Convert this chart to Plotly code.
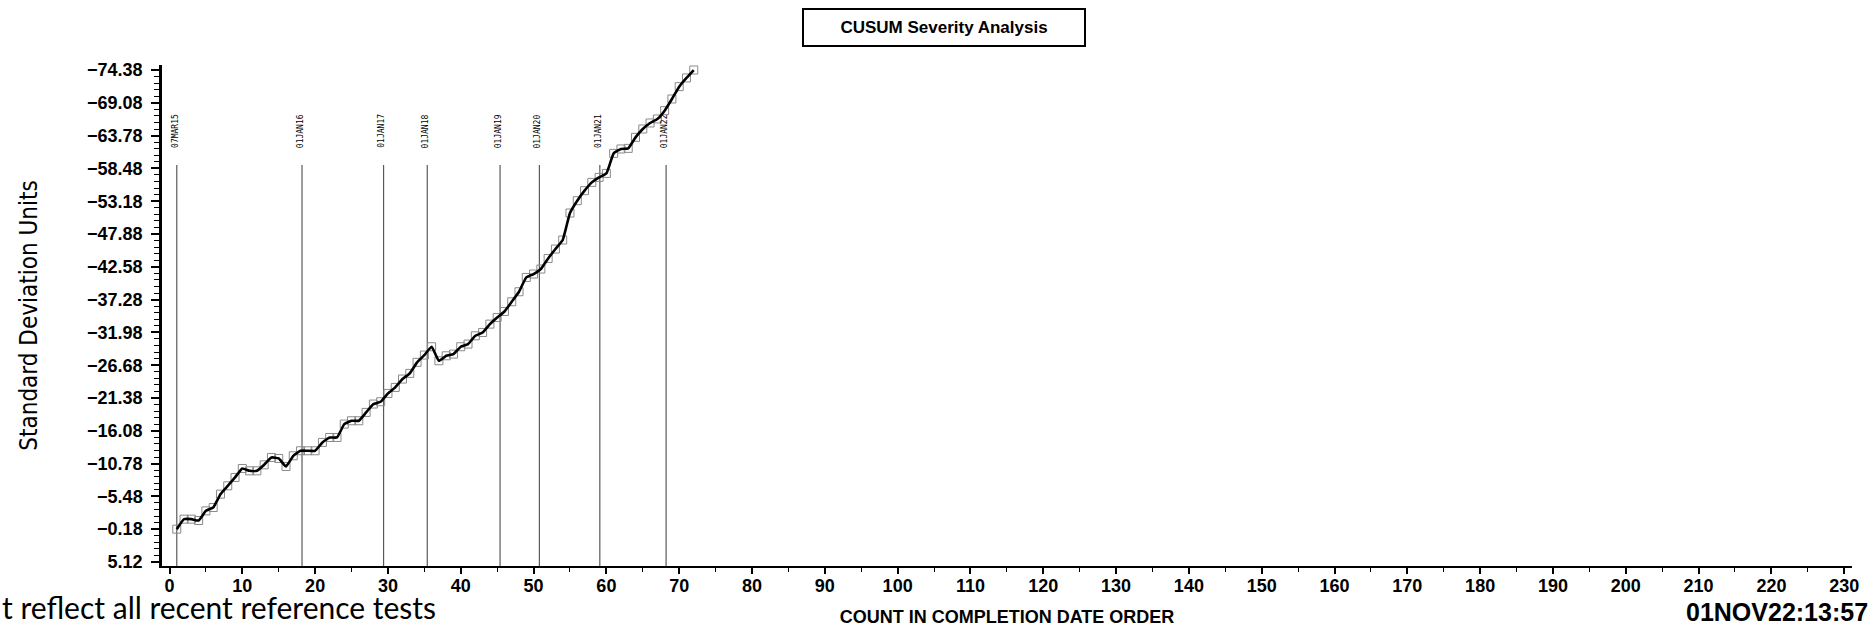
import plotly.graph_objects as go

# ---- data ----
count = [1, 2, 3, 4, 5, 6, 7, 8, 9, 10, 11, 12, 13, 14, 15, 16, 17, 18, 19, 20,
         21, 22, 23, 24, 25, 26, 27, 28, 29, 30, 31, 32, 33, 34, 35, 36, 37, 38, 39, 40,
         41, 42, 43, 44, 45, 46, 47, 48, 49, 50, 51, 52, 53, 54, 55, 56, 57, 58, 59, 60,
         61, 62, 63, 64, 65, 66, 67, 68, 69, 70, 71, 72]
cusum = [-0.18, -1.80, -1.80, -1.58, -3.14, -3.68, -5.84, -7.19, -8.54, -9.99,
         -9.61, -9.61, -10.58, -11.77, -11.61, -10.31, -12.04, -12.85, -12.85, -12.85,
         -14.20, -15.00, -15.00, -17.16, -17.70, -17.70, -19.05, -20.40, -20.77, -22.12,
         -23.09, -24.44, -25.36, -27.14, -28.32, -29.66, -27.39, -28.20, -28.47, -29.66,
         -30.09, -31.43, -31.97, -33.32, -34.39, -35.36, -36.93, -38.55, -40.86, -41.41,
         -42.22, -43.93, -45.45, -46.91, -51.27, -53.26, -54.88, -56.22, -57.03, -57.67,
         -60.91, -61.62, -61.72, -63.50, -64.85, -65.82, -66.47, -67.81, -69.70, -71.69,
         -73.10, -74.38]

event_x = [1, 18.2, 29.4, 35.4, 45.4, 50.8, 59.1, 68.2]
event_labels = ["07MAR15", "01JAN16", "01JAN17", "01JAN18", "01JAN19", "01JAN20", "01JAN21", "01JAN22"]

y_tick_values = [5.12, -0.18, -5.48, -10.78, -16.08, -21.38, -26.68, -31.98,
                 -37.28, -42.58, -47.88, -53.18, -58.48, -63.78, -69.08, -74.38]
x_tick_values = list(range(0, 231, 10))

title_text = "CUSUM Severity Analysis"
x_title = "COUNT IN COMPLETION DATE ORDER"
y_title = "Standard Deviation Units"
stamp_text = "01NOV22:13:57"
note_text = "t reflect all recent reference tests"

# ---- figure ----
tick_font = dict(family="Liberation Sans, Arial, sans-serif", size=18, color="black", weight="bold")

fig = go.Figure()
fig.add_trace(go.Scatter(
    x=count, y=cusum, mode="markers", showlegend=False,
    marker=dict(symbol="square-open", size=8, color="#8a8a8a", line=dict(width=1, color="#8a8a8a")),
))
fig.add_trace(go.Scatter(
    x=count, y=cusum, mode="lines", showlegend=False,
    line=dict(color="black", width=2.6, shape="spline", smoothing=0.4),
))

for ex, lab in zip(event_x, event_labels):
    fig.add_shape(type="line", xref="x", yref="y domain", x0=ex, x1=ex, y0=0, y1=0.8004,
                  line=dict(color="#5a5a5a", width=1.2), layer="below")
    fig.add_annotation(x=ex, xref="x", y=0.868, yref="paper", yanchor="middle", xanchor="center",
                       text=lab, textangle=-90, showarrow=False, xshift=-2,
                       font=dict(family="DejaVu Sans Mono, monospace", size=8, color="black"))

fig.add_annotation(x=0.4627, y=1.0758, xref="paper", yref="paper", xanchor="center", yanchor="middle",
                   text=title_text, showarrow=False, width=278, height=33, borderpad=1, borderwidth=2,
                   bordercolor="black", bgcolor="white",
                   font=dict(family="Liberation Sans, Arial, sans-serif", size=17, color="black", weight="bold"))

fig.add_annotation(x=1.0106, y=-0.0918, xref="paper", yref="paper", text=stamp_text,
                   showarrow=False, xanchor="right", yanchor="middle",
                   font=dict(family="Liberation Sans, Arial, sans-serif", size=25, color="black", weight="bold"))

fig.add_annotation(x=-0.0959, y=-0.1218, xref="paper", yref="paper", text=note_text,
                   showarrow=False, xanchor="left", yanchor="bottom",
                   font=dict(family="Lato, Open Sans, sans-serif", size=30, color="black"))

fig.update_layout(
    width=1872, height=627,
    margin=dict(l=162, r=20, t=65, b=61),
    paper_bgcolor="white", plot_bgcolor="white",
    xaxis=dict(
        range=[-1.03, 231.07], tickvals=x_tick_values, showgrid=False, zeroline=False,
        automargin=False,
        showline=True, linewidth=2, linecolor="black",
        ticks="outside", ticklen=6, tickwidth=1.5, tickcolor="black",
        ticklabelstandoff=-4, tickfont=tick_font,
        minor=dict(tick0=0, dtick=5, ticks="outside", ticklen=4, tickwidth=1, tickcolor="black"),
        title=dict(text=x_title, standoff=28,
                   font=dict(family="Liberation Sans, Arial, sans-serif", size=18, color="black", weight="bold")),
    ),
    yaxis=dict(
        range=[5.77, -75.19], tickvals=y_tick_values, tickformat=".2f",
        showgrid=False, zeroline=False, automargin=False,
        showline=True, linewidth=2.5, linecolor="black",
        ticks="outside", ticklen=8, tickwidth=1.5, tickcolor="black",
        ticklabelstandoff=5, tickfont=tick_font,
        minor=dict(tick0=5.12, dtick=1.06, ticks="outside", ticklen=5, tickwidth=1, tickcolor="black"),
        title=dict(text=y_title, standoff=43,
                   font=dict(family="Liberation Sans Narrow, DejaVu Sans Condensed, Arial Narrow, sans-serif",
                             size=24, color="black")),
    ),
)

fig.write_html("out.html", config={"displayModeBar": False},
               post_script="document.body.style.margin='0';")
